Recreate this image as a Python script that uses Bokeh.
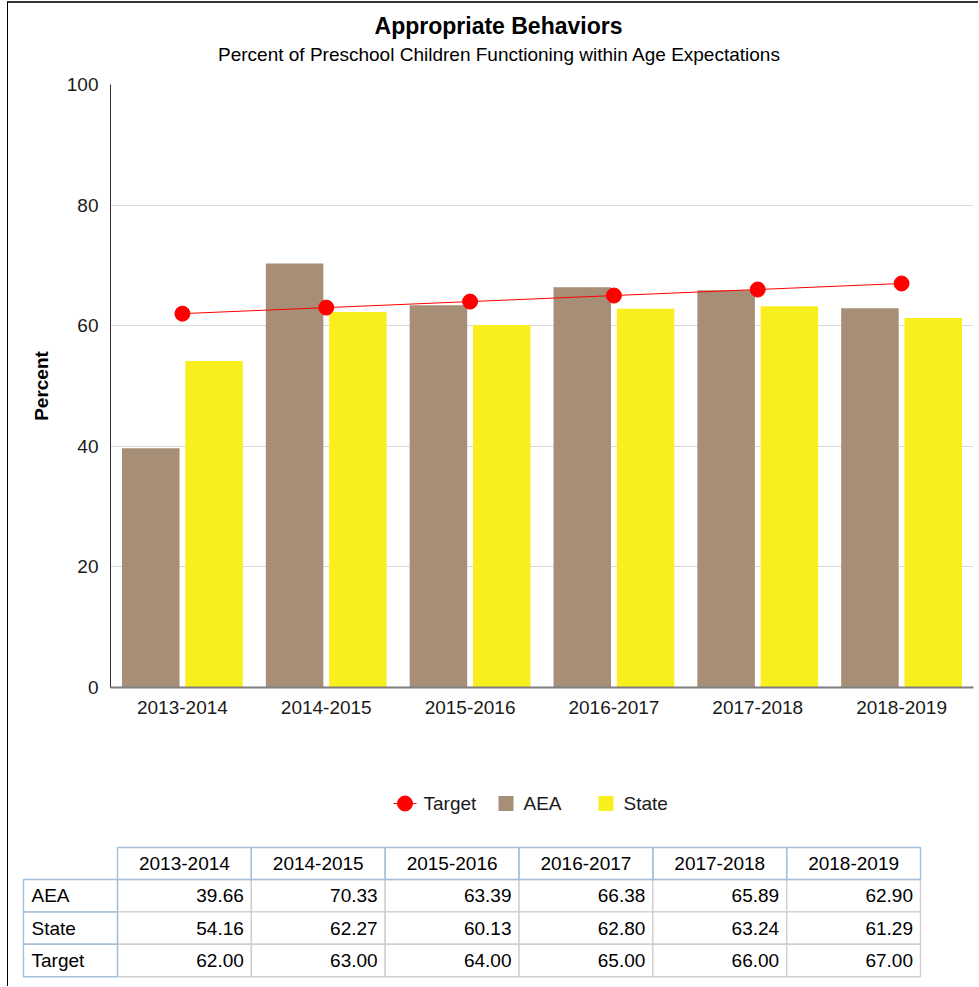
from bokeh.plotting import figure
from bokeh.models import Range1d, FactorRange, FixedTicker, ColumnDataSource
from bokeh.layouts import column
from bokeh.transform import dodge
from bokeh.core.properties import value
from bokeh.embed import file_html
from bokeh.resources import INLINE

# ---------------- data ----------------
years = ["2013-2014", "2014-2015", "2015-2016", "2016-2017", "2017-2018", "2018-2019"]
aea = [39.66, 70.33, 63.39, 66.38, 65.89, 62.90]
state = [54.16, 62.27, 60.13, 62.80, 63.24, 61.29]
target = [62.00, 63.00, 64.00, 65.00, 66.00, 67.00]
y_ticks = [0, 20, 40, 60, 80, 100]
series_names = ["Target", "AEA", "State"]
title_text = "Appropriate Behaviors"
subtitle_text = "Percent of Preschool Children Functioning within Age Expectations"
y_label = "Percent"

# ---------------- styles ----------------
FONT = "Liberation Sans"
W = 978
AEA_COLOR = "#A68F76"
STATE_COLOR = "#F9EF1F"
TARGET_COLOR = "#FF0000"
TXT = "#1a1a1a"


def blank_fig(y0, y1):
    f = figure(width=W, height=y1 - y0, x_range=Range1d(0, W), y_range=Range1d(y1, y0),
               output_backend="svg", toolbar_location=None, min_border=0,
               x_axis_location=None, y_axis_location=None, frame_align=False)
    f.outline_line_color = None
    f.border_fill_color = None
    f.background_fill_color = None
    f.grid.visible = False
    return f


# ---------------- header ----------------
header = blank_fig(0, 68)
header.text(x=[498], y=[25], text=[title_text], text_font=value(FONT), text_font_size="23px",
            text_font_style="bold", text_align="center", text_baseline="middle", text_color="#000000")
header.text(x=[499], y=[54], text=[subtitle_text], text_font=value(FONT), text_font_size="19px",
            text_align="center", text_baseline="middle", text_color="#000000")

# ---------------- main chart ----------------
src = ColumnDataSource(dict(year=years, aea=aea, state=state, target=target))
p = figure(width=W, height=702, x_range=FactorRange(factors=years, range_padding=0),
           y_range=Range1d(0, 100), output_backend="svg", toolbar_location=None,
           min_border_left=110, min_border_right=5, min_border_top=16, min_border_bottom=83,
           frame_align=False)
p.outline_line_color = None
p.border_fill_color = None

ab = p.vbar(x=dodge("year", -0.22, range=p.x_range), top="aea", width=0.40, source=src,
            fill_color=AEA_COLOR, line_color=None)
sb = p.vbar(x=dodge("year", 0.22, range=p.x_range), top="state", width=0.40, source=src,
            fill_color=STATE_COLOR, line_color=None)
tl = p.line(x="year", y="target", source=src, line_color=TARGET_COLOR, line_width=1)
ts = p.scatter(x="year", y="target", source=src, size=15, fill_color=TARGET_COLOR,
               line_color=TARGET_COLOR)

p.xgrid.visible = False
p.ygrid.grid_line_color = "#d9d9d9"
p.yaxis.ticker = FixedTicker(ticks=y_ticks)
for ax in (p.xaxis, p.yaxis):
    ax.major_tick_line_color = None
    ax.minor_tick_line_color = None
    ax.major_tick_out = 0
    ax.major_tick_in = 0
    ax.minor_tick_out = 0
    ax.major_label_text_font = FONT
    ax.major_label_text_font_size = "19px"
    ax.major_label_text_color = TXT
p.xaxis.axis_line_color = "#7f7f7f"
p.xaxis.axis_line_width = 2
p.xaxis.major_label_standoff = 13
p.yaxis.axis_line_color = "#333333"
p.yaxis.major_label_standoff = 12
p.yaxis.axis_label = y_label
p.yaxis.axis_label_text_font = FONT
p.yaxis.axis_label_text_font_size = "19px"
p.yaxis.axis_label_text_font_style = "bold"
p.yaxis.axis_label_text_color = "#000000"
p.yaxis.axis_label_standoff = 12

# ---------------- legend + data table ----------------
b = blank_fig(770, 986)

# legend (layout: swatch, standoff, fixed label slot, spacing)
leg_y = 803
leg_x0 = 393
swatch_w = [23, 15, 15]
standoff = [7, 10, 10]
label_slot = 55
item_gap = 20
sx, lx = [], []
x = leg_x0
for i in range(3):
    sx.append(x)
    lx.append(x + swatch_w[i] + standoff[i])
    x = lx[-1] + label_slot + item_gap
b.segment(x0=[sx[0]], y0=[leg_y], x1=[sx[0] + swatch_w[0]], y1=[leg_y], line_color=TARGET_COLOR, line_width=1)
b.scatter(x=[sx[0] + swatch_w[0] / 2], y=[leg_y], size=15, fill_color=TARGET_COLOR, line_color=TARGET_COLOR)
b.quad(left=[sx[1]], right=[sx[1] + swatch_w[1]], top=[leg_y - 7.5], bottom=[leg_y + 7.5],
       fill_color=AEA_COLOR, line_color=None)
b.quad(left=[sx[2]], right=[sx[2] + swatch_w[2]], top=[leg_y - 7.5], bottom=[leg_y + 7.5],
       fill_color=STATE_COLOR, line_color=None)
b.text(x=lx, y=[leg_y] * 3, text=series_names, text_font=value(FONT), text_font_size="19px",
       text_align="left", text_baseline="middle", text_color=TXT)

# table
label_left, label_right = 23, 117
col_w = (920 - 117) / len(years)
head_top, head_bot = 847, 879
row_h = 32.4
rows = [("AEA", aea), ("State", state), ("Target", target)]

dl, dr, dt, db = [], [], [], []
for r in range(len(rows)):
    for c in range(len(years)):
        dl.append(label_right + c * col_w)
        dr.append(label_right + (c + 1) * col_w)
        dt.append(head_bot + r * row_h)
        db.append(head_bot + (r + 1) * row_h)
b.quad(left=dl, right=dr, top=dt, bottom=db, fill_color="#ffffff", line_color="#cfcfcf", line_width=1.4)

hl = [label_right + c * col_w for c in range(len(years))] + [label_left] * len(rows)
hr = [label_right + (c + 1) * col_w for c in range(len(years))] + [label_right] * len(rows)
ht = [head_top] * len(years) + [head_bot + r * row_h for r in range(len(rows))]
hb = [head_bot] * len(years) + [head_bot + (r + 1) * row_h for r in range(len(rows))]
b.quad(left=hl, right=hr, top=ht, bottom=hb, fill_alpha=0, line_color="#a6c0dc", line_width=1.4)

b.text(x=[label_right + (c + 0.5) * col_w for c in range(len(years))],
       y=[(head_top + head_bot) / 2] * len(years), text=years, text_font=value(FONT),
       text_font_size="19px", text_align="center", text_baseline="middle", text_color="#000000")
b.text(x=[label_left + 8] * len(rows), y=[head_bot + (r + 0.5) * row_h for r in range(len(rows))],
       text=[name for name, _ in rows], text_font=value(FONT), text_font_size="19px",
       text_align="left", text_baseline="middle", text_color="#000000")
vx, vy, vt = [], [], []
for r, (name, vals) in enumerate(rows):
    for c, v in enumerate(vals):
        vx.append(label_right + (c + 1) * col_w - 7.5)
        vy.append(head_bot + (r + 0.5) * row_h)
        vt.append(f"{v:.2f}")
b.text(x=vx, y=vy, text=vt, text_font=value(FONT), text_font_size="19px", text_align="right",
       text_baseline="middle", text_color="#000000")

layout = column(header, p, b, spacing=0,
                styles={"background": "linear-gradient(#000000,#000000) 7px 2px / 1px 100% no-repeat, "
                                      "linear-gradient(#333333,#333333) 7px 1px / 100% 2px no-repeat"})

open("out.html", "w").write(file_html(layout, INLINE))
